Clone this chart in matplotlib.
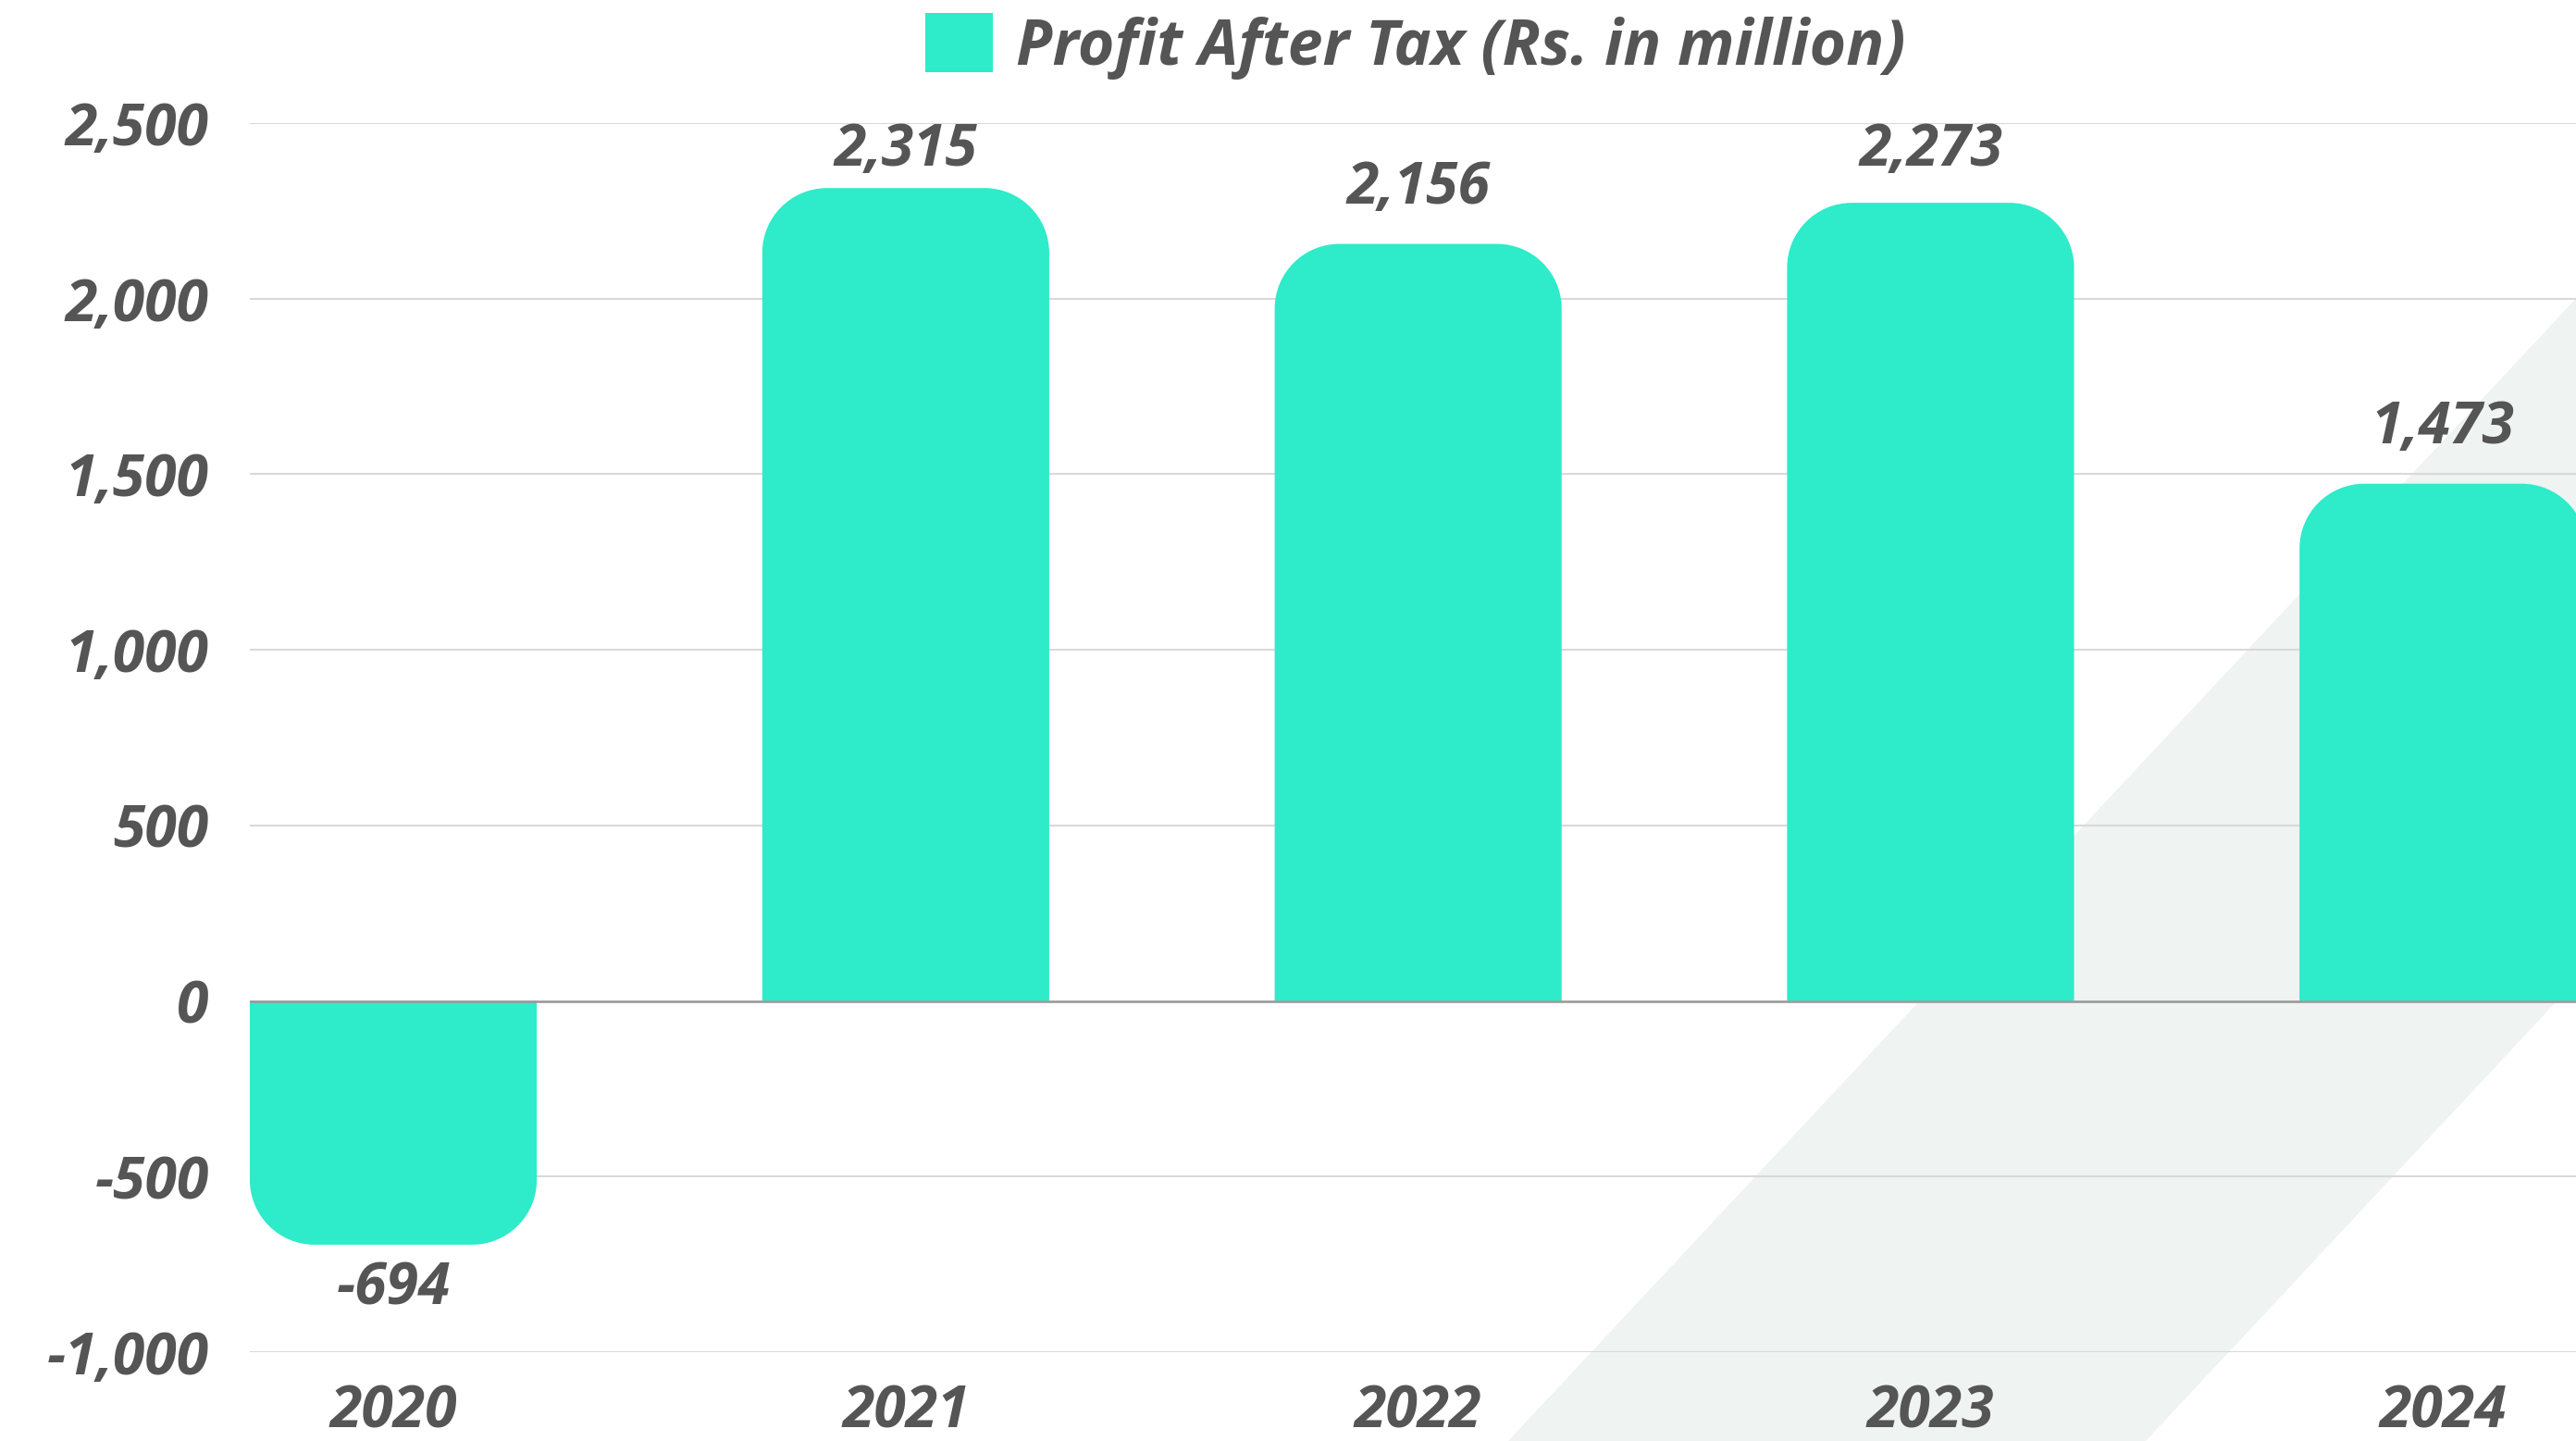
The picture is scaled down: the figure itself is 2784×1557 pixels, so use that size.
import matplotlib
matplotlib.use("Agg")
import matplotlib.pyplot as plt
from matplotlib.path import Path
from matplotlib.patches import PathPatch, Patch, Polygon
import numpy as np

# ---- data ----
years = ["2020", "2021", "2022", "2023", "2024"]
profit = [-694, 2315, 2156, 2273, 1473]
y_ticks = [-1000, -500, 0, 500, 1000, 1500, 2000, 2500]
series_label = "Profit After Tax (Rs. in million)"

BAR = "#2EEBC9"
TXT = "#555555"
FAM = ["Open Sans", "Roboto", "DejaVu Sans"]
FONT = dict(family=FAM, weight="bold", style="italic")
FS = 45

W, H = 2784, 1557
fig = plt.figure(figsize=(W / 100, H / 100), dpi=100, facecolor="white")

# decorative diagonal band (figure pixels)
def px(x, y):
    return (x / W, 1 - y / H)

band = Polygon([px(1630, 1557), px(2319, 1557), px(2950, 882), px(2950, 145)],
               closed=True, transform=fig.transFigure, facecolor="#eff3f2",
               edgecolor="none", zorder=-1)
fig.patches.append(band)

ax = fig.add_axes([270 / W, 1 - 1461 / H, (W - 270) / W, (1461 - 133) / H])
ax.set_facecolor("none")
x = np.arange(len(years))
bw = 0.56
ax.set_xlim(-bw / 2, -bw / 2 + (W - 270) / 553.8)
ax.set_ylim(y_ticks[0], y_ticks[-1])

bars = ax.bar(x, profit, width=bw, color=BAR, zorder=2)

# rounded-end bars built from each bar's geometry
fig.canvas.draw()
inv = ax.transData.inverted()
def px_to_data(dx, dy):
    a = inv.transform((0, 0))
    b = inv.transform((dx, dy))
    return abs(b[0] - a[0]), abs(b[1] - a[1])

rx, ry = px_to_data(70, 70)
_, gap_up = px_to_data(0, 44)      # label baseline gap above positive bars
_, cap_h = px_to_data(0, 46)       # cap height of label text
top_limit = y_ticks[-1] - cap_h
k = 0.5523
for rect in bars:
    x0, w, h = rect.get_x(), rect.get_width(), rect.get_height()
    s = 1 if h >= 0 else -1
    yc = h - s * ry
    verts = [(x0, 0), (x0, yc),
             (x0, yc + s * ry * k), (x0 + rx - rx * k, h), (x0 + rx, h),
             (x0 + w - rx, h),
             (x0 + w - rx + rx * k, h), (x0 + w, yc + s * ry * k), (x0 + w, yc),
             (x0 + w, 0), (x0, 0)]
    codes = [Path.MOVETO, Path.LINETO,
             Path.CURVE4, Path.CURVE4, Path.CURVE4,
             Path.LINETO,
             Path.CURVE4, Path.CURVE4, Path.CURVE4,
             Path.LINETO, Path.CLOSEPOLY]
    ax.add_patch(PathPatch(Path(verts, codes), facecolor=BAR, edgecolor="none", zorder=2))
    rect.set_visible(False)

    if s > 0:
        ax.text(x0 + w / 2, min(h + gap_up, top_limit), f"{h:,}", ha="center",
                va="baseline", color=TXT, fontsize=FS, **FONT)
    else:
        ax.annotate(f"{h:,}", (x0 + w / 2, h), xytext=(0, -12),
                    textcoords="offset points", ha="center", va="top",
                    color=TXT, fontsize=FS, **FONT)

ax.set_yticks(y_ticks)
ax.set_yticklabels([f"{v:,}" for v in y_ticks])
ax.set_xticks(x)
ax.set_xticklabels(years)
ax.tick_params(axis="both", length=0, labelsize=FS, labelcolor=TXT)
ax.tick_params(axis="y", pad=32)
ax.tick_params(axis="x", pad=24)
for lab in ax.get_xticklabels() + ax.get_yticklabels():
    lab.set_fontweight("bold")
    lab.set_fontstyle("italic")
    lab.set_family(FAM)

ax.grid(axis="y", color="#d9d9d9", linewidth=1.5, zorder=1)
ax.set_axisbelow(True)
ax.axhline(0, color="#999999", linewidth=1.8, zorder=3)
for sp in ax.spines.values():
    sp.set_visible(False)

fig.legend(handles=[Patch(facecolor=BAR, label=series_label)],
           loc="center", bbox_to_anchor=(1530 / W, 1 - 50 / H), frameon=False,
           handlelength=1.07, handleheight=1.07, handletextpad=0.37,
           prop=dict(size=49, **FONT), labelcolor=TXT)

fig.savefig("out.png", dpi=100, facecolor="white")
